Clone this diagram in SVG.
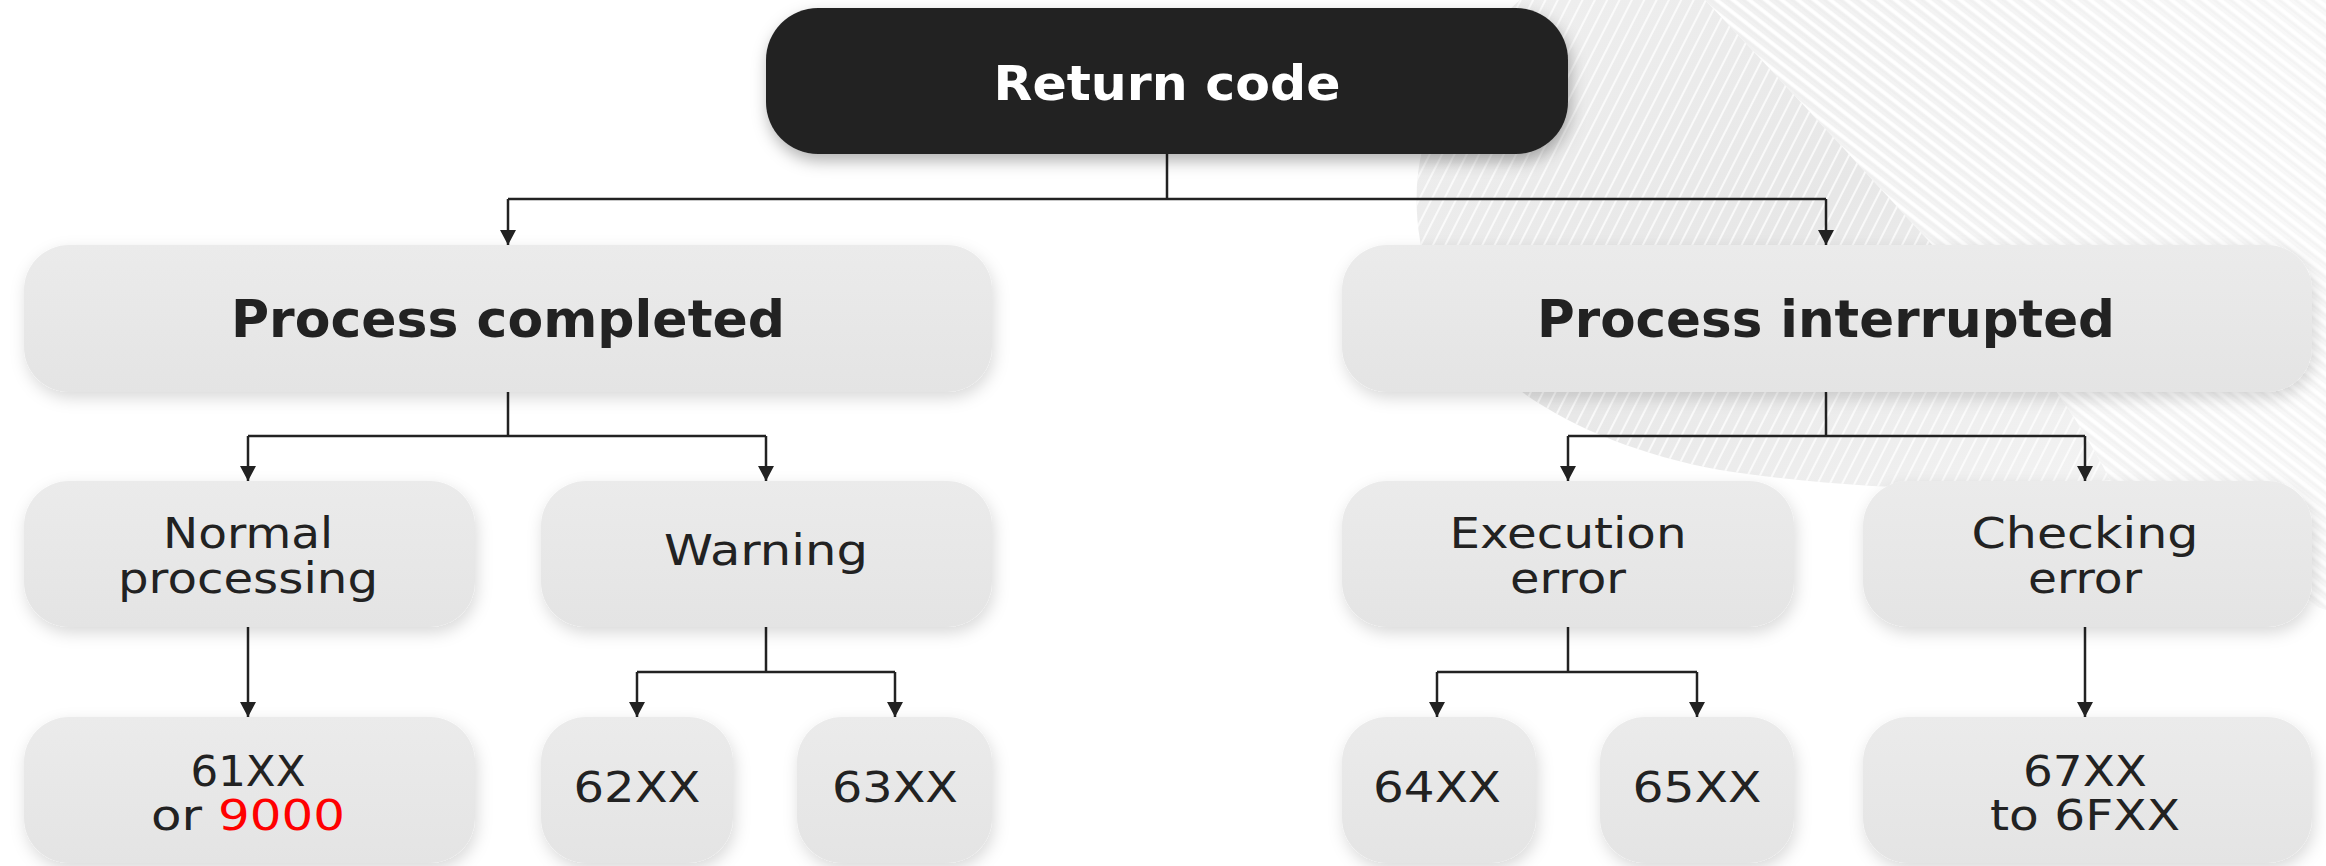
<svg xmlns="http://www.w3.org/2000/svg" width="2326" height="866" viewBox="0 0 2326 866">
  <defs>
    <style>
      .box { fill: url(#boxFill); filter: url(#soft); }
      .root { fill: #222222; filter: url(#softDark); }
      .lbl { font-family: "DejaVu Sans", "Liberation Sans", sans-serif; font-size: 43px; fill: #222222; text-anchor: middle; }
      .head { font-family: "DejaVu Sans", "Liberation Sans", sans-serif; font-size: 51px; font-weight: 700; fill: #222222; text-anchor: middle; }
      .rootTxt { font-family: "DejaVu Sans", "Liberation Sans", sans-serif; font-size: 48px; font-weight: 700; fill: #ffffff; text-anchor: middle; }
      .red { fill: #ff0000; }
      .wire { fill: none; stroke: #222222; stroke-width: 2.5; }
      .arrow { marker-end: url(#head); }
    </style>
    <linearGradient id="boxFill" x1="0" y1="0" x2="0" y2="1">
      <stop offset="0" stop-color="#ebebeb"/>
      <stop offset="1" stop-color="#e4e4e4"/>
    </linearGradient>
    <linearGradient id="bandFill" x1="0" y1="0" x2="1" y2="1">
      <stop offset="0" stop-color="#f0f0f0"/>
      <stop offset="0.5" stop-color="#e7e7e7"/>
      <stop offset="1" stop-color="#f3f3f3"/>
    </linearGradient>
    <linearGradient id="waveFill" x1="0" y1="0" x2="1" y2="0">
      <stop offset="0" stop-color="#f0f0f0"/>
      <stop offset="1" stop-color="#f8f8f8"/>
    </linearGradient>
    <pattern id="slash" patternUnits="userSpaceOnUse" width="11" height="11" patternTransform="rotate(27)">
      <line x1="2" y1="0" x2="2" y2="11" stroke="#ffffff" stroke-width="2" stroke-opacity="0.75"/>
    </pattern>
    <pattern id="waves" patternUnits="userSpaceOnUse" width="10" height="10" patternTransform="rotate(38)">
      <line x1="0" y1="3" x2="10" y2="3" stroke="#ffffff" stroke-width="3.5"/>
      <line x1="0" y1="7" x2="10" y2="7" stroke="#e4e4e4" stroke-width="1" stroke-opacity="0.35"/>
    </pattern>
    <filter id="soft" x="-20%" y="-30%" width="140%" height="170%">
      <feDropShadow dx="2" dy="6" stdDeviation="8" flood-color="#000000" flood-opacity="0.15"/>
    </filter>
    <filter id="softDark" x="-20%" y="-30%" width="140%" height="170%">
      <feDropShadow dx="2" dy="7" stdDeviation="8" flood-color="#000000" flood-opacity="0.3"/>
    </filter>
    <marker id="head" viewBox="0 0 15 16" refX="15" refY="8" markerWidth="15" markerHeight="16" markerUnits="userSpaceOnUse" orient="auto">
      <path d="M0,0 L15,8 L0,16 Z" fill="#222222"/>
    </marker>
  </defs>

  <rect width="2326" height="866" fill="#ffffff"/>

  <!-- decorative ribbon in the upper right -->
  <g id="backdrop">
    <path d="M1705,0 L2326,0 L2326,610 C2250,585 2160,535 2110,480 C2080,420 2030,350 1965,280 C1900,210 1800,100 1705,0 Z" fill="url(#waveFill)"/>
    <path d="M1705,0 L2326,0 L2326,610 C2250,585 2160,535 2110,480 C2080,420 2030,350 1965,280 C1900,210 1800,100 1705,0 Z" fill="url(#waves)"/>
    <path d="M1520,0 L1705,0 C1800,100 1900,210 1965,280 C2030,350 2080,420 2110,480 C2000,495 1850,490 1720,470 C1560,440 1440,360 1420,240 C1405,150 1440,70 1520,0 Z" fill="url(#bandFill)"/>
    <path d="M1520,0 L1705,0 C1800,100 1900,210 1965,280 C2030,350 2080,420 2110,480 C2000,495 1850,490 1720,470 C1560,440 1440,360 1420,240 C1405,150 1440,70 1520,0 Z" fill="url(#slash)"/>
  </g>

  <!-- connectors -->
  <g id="connectors">
    <path class="wire" d="M1167,154 V199 M508,199 H1826"/>
    <path class="wire arrow" d="M508,199 V245"/>
    <path class="wire arrow" d="M1826,199 V245"/>

    <path class="wire" d="M508,392 V436 M248,436 H766"/>
    <path class="wire arrow" d="M248,436 V481"/>
    <path class="wire arrow" d="M766,436 V481"/>

    <path class="wire" d="M1826,392 V436 M1568,436 H2085"/>
    <path class="wire arrow" d="M1568,436 V481"/>
    <path class="wire arrow" d="M2085,436 V481"/>

    <path class="wire arrow" d="M248,627 V717"/>

    <path class="wire" d="M766,627 V672 M637,672 H895"/>
    <path class="wire arrow" d="M637,672 V717"/>
    <path class="wire arrow" d="M895,672 V717"/>

    <path class="wire" d="M1568,627 V672 M1437,672 H1697"/>
    <path class="wire arrow" d="M1437,672 V717"/>
    <path class="wire arrow" d="M1697,672 V717"/>

    <path class="wire arrow" d="M2085,627 V717"/>
  </g>

  <!-- nodes -->
  <g id="return-code">
    <rect class="root" x="766" y="8" width="802" height="146" rx="52"/>
    <text class="rootTxt" x="1167" y="100" textLength="347" lengthAdjust="spacingAndGlyphs">Return code</text>
  </g>

  <g id="process-completed">
    <rect class="box" x="24" y="245" width="968" height="147" rx="45"/>
    <text class="head" x="508" y="337" textLength="554" lengthAdjust="spacingAndGlyphs">Process completed</text>
  </g>

  <g id="process-interrupted">
    <rect class="box" x="1342" y="245" width="970" height="147" rx="45"/>
    <text class="head" x="1826" y="337" textLength="578" lengthAdjust="spacingAndGlyphs">Process interrupted</text>
  </g>

  <g id="normal-processing">
    <rect class="box" x="24" y="481" width="451" height="146" rx="45"/>
    <text class="lbl" x="248" y="548" textLength="170" lengthAdjust="spacingAndGlyphs">Normal</text>
    <text class="lbl" x="248" y="593" textLength="260" lengthAdjust="spacingAndGlyphs">processing</text>
  </g>

  <g id="warning">
    <rect class="box" x="541" y="481" width="451" height="146" rx="45"/>
    <text class="lbl" x="766" y="565" textLength="204" lengthAdjust="spacingAndGlyphs">Warning</text>
  </g>

  <g id="execution-error">
    <rect class="box" x="1342" y="481" width="452" height="146" rx="45"/>
    <text class="lbl" x="1568" y="548" textLength="237" lengthAdjust="spacingAndGlyphs">Execution</text>
    <text class="lbl" x="1568" y="593" textLength="116" lengthAdjust="spacingAndGlyphs">error</text>
  </g>

  <g id="checking-error">
    <rect class="box" x="1863" y="481" width="449" height="146" rx="45"/>
    <text class="lbl" x="2085" y="548" textLength="227" lengthAdjust="spacingAndGlyphs">Checking</text>
    <text class="lbl" x="2085" y="593" textLength="114" lengthAdjust="spacingAndGlyphs">error</text>
  </g>

  <g id="code-61xx">
    <rect class="box" x="24" y="717" width="451" height="146" rx="45"/>
    <text class="lbl" x="248" y="786" textLength="115" lengthAdjust="spacingAndGlyphs">61XX</text>
    <text class="lbl" x="248" y="830" textLength="194" lengthAdjust="spacingAndGlyphs">or <tspan class="red">9000</tspan></text>
  </g>

  <g id="code-62xx">
    <rect class="box" x="541" y="717" width="192" height="146" rx="45"/>
    <text class="lbl" x="637" y="802" textLength="127" lengthAdjust="spacingAndGlyphs">62XX</text>
  </g>

  <g id="code-63xx">
    <rect class="box" x="797" y="717" width="195" height="146" rx="45"/>
    <text class="lbl" x="895" y="802" textLength="126" lengthAdjust="spacingAndGlyphs">63XX</text>
  </g>

  <g id="code-64xx">
    <rect class="box" x="1342" y="717" width="194" height="146" rx="45"/>
    <text class="lbl" x="1437" y="802" textLength="128" lengthAdjust="spacingAndGlyphs">64XX</text>
  </g>

  <g id="code-65xx">
    <rect class="box" x="1600" y="717" width="194" height="146" rx="45"/>
    <text class="lbl" x="1697" y="802" textLength="129" lengthAdjust="spacingAndGlyphs">65XX</text>
  </g>

  <g id="code-67xx">
    <rect class="box" x="1863" y="717" width="449" height="146" rx="45"/>
    <text class="lbl" x="2085" y="786" textLength="124" lengthAdjust="spacingAndGlyphs">67XX</text>
    <text class="lbl" x="2085" y="830" textLength="190" lengthAdjust="spacingAndGlyphs">to 6FXX</text>
  </g>
</svg>
